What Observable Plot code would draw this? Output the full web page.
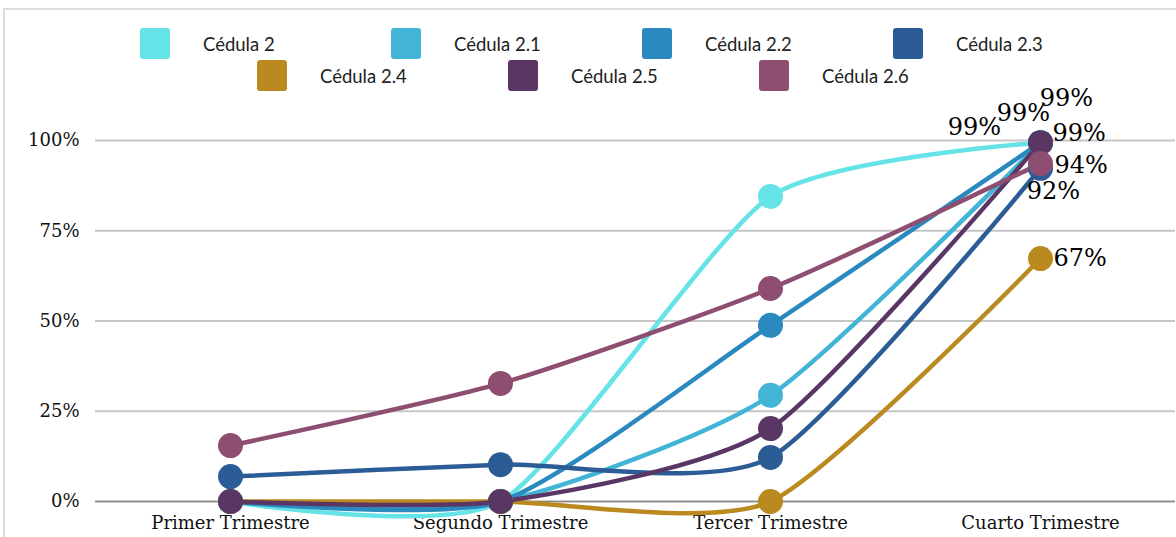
<!DOCTYPE html>
<html>
<head>
<meta charset="utf-8">
<script src="https://cdn.jsdelivr.net/npm/d3@7"></script>
<script src="https://cdn.jsdelivr.net/npm/@observablehq/plot@0.6"></script>
<style>
  html, body { margin: 0; padding: 0; background: #fff; }
  #wrap { position: relative; width: 1176px; height: 537px; overflow: hidden; }
  #frame { position: absolute; left: 3px; top: 8px; width: 1200px; height: 600px;
           border-left: 2px solid #dcdcdc; border-top: 2px solid #dcdcdc; box-sizing: border-box; }
  #legend { position: relative; width: 1176px; height: 95px; font-family: "Lato", "Noto Sans", sans-serif; font-size: 18.5px; color: #222; }
  .item { position: absolute; display: flex; align-items: center; }
  .sw { width: 30px; height: 31px; border-radius: 3px; margin-right: 33px; }
  #chart { position: relative; }
</style>
</head>
<body>
<div id="wrap">
  <div id="frame"></div>
  <div id="legend"></div>
  <div id="chart"></div>
</div>
<script>
// ---- data ----
const quarters = ["Primer Trimestre", "Segundo Trimestre", "Tercer Trimestre", "Cuarto Trimestre"];
const seriesNames = ["Cédula 2", "Cédula 2.1", "Cédula 2.2", "Cédula 2.3", "Cédula 2.4", "Cédula 2.5", "Cédula 2.6"];
const colors = ["#66E3E6", "#42B4D5", "#2A89BE", "#2B5C96", "#BA8A20", "#5A3664", "#8D4E71"];
const cedula2  = [0, 0, 84.5, 99.4];
const cedula21 = [0, 0, 29.4, 99.4];
const cedula22 = [0, 0, 48.8, 99.4];
const cedula23 = [6.9, 10.2, 12.2, 92.3];
const cedula24 = [0, 0, 0, 67.3];
const cedula25 = [0, 0, 20.2, 99.4];
const cedula26 = [15.5, 32.7, 59.0, 93.6];
const yTicks = [0, 25, 50, 75, 100];

const seriesValues = [cedula2, cedula21, cedula22, cedula23, cedula24, cedula25, cedula26];
const rows = [];
seriesNames.forEach((s, i) => quarters.forEach((q, j) => rows.push({series: s, q, v: seriesValues[i][j]})));

// ---- legend ----
const legend = document.getElementById("legend");
const legendPos = [[140, 28], [391, 28], [642, 28], [893, 28], [257, 60], [508, 60], [759, 60]];
seriesNames.forEach((s, i) => {
  const it = document.createElement("div");
  it.className = "item";
  it.style.left = legendPos[i][0] + "px";
  it.style.top = legendPos[i][1] + "px";
  it.innerHTML = `<div class="sw" style="background:${colors[i]}"></div><span>${s}</span>`;
  legend.appendChild(it);
});

// ---- label layout (styles) ----
const labelStyle = {
  "Cédula 2":   {dx: 26, dy: -44, anchor: "middle"},
  "Cédula 2.1": {dx: -17, dy: -29, anchor: "middle"},
  "Cédula 2.2": {dx: -66, dy: -15, anchor: "middle"},
  "Cédula 2.3": {dx: 13, dy: 23, anchor: "middle"},
  "Cédula 2.4": {dx: 13, dy: 0, anchor: "start"},
  "Cédula 2.5": {dx: 12, dy: -9, anchor: "start"},
  "Cédula 2.6": {dx: 14, dy: 2, anchor: "start"}
};
const last = quarters[quarters.length - 1];
const labelMarks = seriesNames.map(s => Plot.text(rows.filter(d => d.series === s && d.q === last), {
  x: "q", y: "v", text: d => Math.round(d.v) + "%",
  dx: labelStyle[s].dx, dy: labelStyle[s].dy, textAnchor: labelStyle[s].anchor,
  fill: "#000", fontSize: 24, fontFamily: "DejaVu Serif"
}));

const chart = Plot.plot({
  width: 1176, height: 442,
  marginLeft: 95, marginRight: 1, marginTop: 45, marginBottom: 36,
  style: {fontFamily: "DejaVu Serif", fontSize: "18px", color: "#111", background: "transparent", overflow: "visible"},
  x: {type: "point", domain: quarters, padding: 0.5, label: null},
  y: {domain: [0, 100], label: null},
  color: {domain: seriesNames, range: colors},
  marks: [
    Plot.gridY(yTicks, {stroke: "#c6c6c6", strokeOpacity: 1, strokeWidth: 2}),
    Plot.ruleY([0], {stroke: "#8a8a8a", strokeWidth: 1.5}),
    Plot.axisY(yTicks, {tickSize: 0, tickPadding: 16, tickFormat: d => d + "%", fontSize: 18, label: null}),
    Plot.axisX({tickSize: 0, tickPadding: 15, fontSize: 18, label: null}),
    Plot.line(rows, {x: "q", y: "v", z: "series", stroke: "series", curve: "cardinal", tension: 0.35, strokeWidth: 4.5}),
    Plot.dot(rows, {x: "q", y: "v", fill: "series", r: 12.5, stroke: "none"}),
    ...labelMarks
  ]
});
document.getElementById("chart").appendChild(chart);
</script>
</body>
</html>
